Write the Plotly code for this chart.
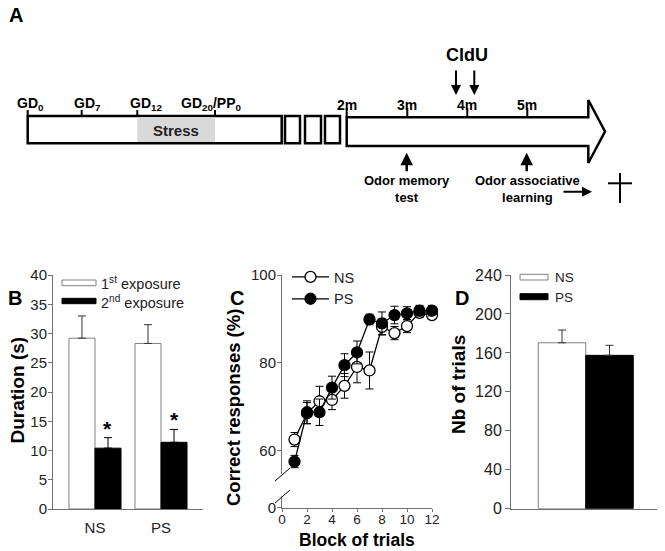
import plotly.graph_objects as go

# ---------------- data ----------------
# Panel B
groups_b = ["NS", "PS"]
first_exposure = [29.2, 28.3]
first_exposure_err = [3.8, 3.2]
second_exposure = [10.4, 11.4]
second_exposure_err = [1.8, 2.2]

# Panel C
blocks = [1, 2, 3, 4, 5, 6, 7, 8, 9, 10, 11, 12]
ns_correct = [62.6, 68.6, 71.3, 71.6, 74.8, 79.1, 78.3, 88.2, 86.8, 88.4, 91.4, 90.9]
ns_correct_err = [1.6, 2.4, 3.4, 2.2, 2.8, 3.6, 4.2, 1.8, 1.5, 1.5, 1.0, 1.0]
ps_correct = [57.6, 68.8, 68.8, 74.4, 79.5, 82.4, 89.9, 89.0, 90.9, 91.3, 91.9, 91.9]
ps_correct_err = [1.4, 2.6, 3.0, 2.6, 2.6, 2.6, 1.2, 2.6, 2.0, 1.5, 1.2, 1.2]

# Panel D
groups_d = ["NS", "PS"]
nb_trials = [170.4, 157.5]
nb_trials_err = [13.1, 10.3]

# Panel A texts
gd_labels = ["GD<sub>0</sub>", "GD<sub>7</sub>", "GD<sub>12</sub>", "GD<sub>20</sub>/PP<sub>0</sub>"]
month_labels = ["2m", "3m", "4m", "5m"]

# ---------------- helpers ----------------
OFF = 8                       # page body margin
W, H = 665 - OFF, 551 - OFF   # figure size
FONT = "Liberation Sans, Arial, sans-serif"
AX = "#707070"


def px(x):
    return (x - OFF) / W


def py(y):
    return 1 - (y - OFF) / H


def label(x, y, text, size, bold=False, color="black", xanchor="center", angle=0):
    f = dict(family=FONT, size=size, color=color)
    if bold:
        f["weight"] = "bold"
    return dict(x=px(x), y=py(y), xref="paper", yref="paper", text=text, showarrow=False,
                xanchor=xanchor, yanchor="middle", font=f, textangle=angle)


def arrow(x, y, ax, ay, width=2):
    return dict(x=px(x), y=py(y), xref="paper", yref="paper", text="", showarrow=True,
                ax=ax, ay=ay, arrowhead=2, arrowsize=1, arrowwidth=width, arrowcolor="black",
                standoff=0, xanchor="center", yanchor="middle")


fig = go.Figure()

# ---------------- Panel B ----------------
fig.add_trace(go.Bar(
    x=groups_b, y=first_exposure, name="1st exposure", xaxis="x", yaxis="y",
    marker=dict(color="white", line=dict(color="#808080", width=1)),
    error_y=dict(type="data", array=first_exposure_err, arrayminus=[0, 0],
                 color="#333333", thickness=1, width=4),
    showlegend=False, cliponaxis=False))
fig.add_trace(go.Bar(
    x=groups_b, y=second_exposure, name="2nd exposure", xaxis="x", yaxis="y",
    marker=dict(color="black", line=dict(color="black", width=1)),
    error_y=dict(type="data", array=second_exposure_err, arrayminus=[0, 0],
                 color="black", thickness=1, width=4),
    showlegend=False, cliponaxis=False))

# ---------------- Panel C ----------------
fig.add_trace(go.Scatter(x=[], y=[], xaxis="x2", yaxis="y3", showlegend=False, hoverinfo="skip"))
fig.add_trace(go.Scatter(
    x=blocks, y=ns_correct, name="NS", xaxis="x2", yaxis="y2",
    mode="lines+markers", line=dict(color="black", width=1.3),
    marker=dict(symbol="circle", size=11, color="white", line=dict(color="black", width=1.3)),
    error_y=dict(type="data", array=ns_correct_err, color="black", thickness=1, width=4),
    cliponaxis=False, legend="legend"))
fig.add_trace(go.Scatter(
    x=blocks, y=ps_correct, name="PS", xaxis="x2", yaxis="y2",
    mode="lines+markers", line=dict(color="black", width=1.3),
    marker=dict(symbol="circle", size=11, color="black", line=dict(color="black", width=1.3)),
    error_y=dict(type="data", array=ps_correct_err, color="black", thickness=1, width=4),
    cliponaxis=False, legend="legend"))

# ---------------- Panel D ----------------
fig.add_trace(go.Bar(
    x=[0, 1], y=nb_trials, xaxis="x3", yaxis="y4", width=[1, 1],
    marker=dict(color=["white", "black"], line=dict(color=["#808080", "black"], width=1)),
    error_y=dict(type="data", array=nb_trials_err, arrayminus=[0, 0],
                 color="#333333", thickness=1, width=4),
    showlegend=False, cliponaxis=False, hovertext=groups_d))

tickfont = dict(family=FONT, size=15, color="#222")

fig.update_layout(
    width=W, height=H, autosize=False,
    margin=dict(l=0, r=0, t=0, b=0),
    paper_bgcolor="white", plot_bgcolor="white",
    barmode="group", bargap=0.212, bargroupgap=0,
    font=dict(family=FONT, color="black"),
    # B
    xaxis=dict(domain=[px(53), px(203)], anchor="y", range=[-0.636, 1.636], automargin=False,
               showline=True, linecolor=AX, linewidth=1, ticks="", showgrid=False,
               tickfont=tickfont, ticklabelstandoff=5, zeroline=False),
    yaxis=dict(domain=[py(509), py(275)], anchor="x", range=[0, 40], dtick=5, automargin=False,
               showline=True, linecolor=AX, linewidth=1, ticks="outside", ticklen=4,
               tickcolor=AX, showgrid=False, zeroline=False, tickfont=tickfont,
               ticklabelstandoff=-2),
    # C
    xaxis2=dict(domain=[px(282), px(432)], anchor="y3", range=[0, 12], automargin=False,
                tickvals=[0, 2, 4, 6, 8, 10, 12], showline=True, linecolor=AX, linewidth=1,
                ticks="outside", ticklen=3, tickcolor=AX, showgrid=False, zeroline=False,
                tickfont=dict(family=FONT, size=13.5, color="#222"), ticklabelstandoff=-4),
    yaxis2=dict(domain=[py(474), py(275)], anchor="x2", range=[54.77, 100], automargin=False,
                tickvals=[60, 80, 100], showline=True, linecolor=AX, linewidth=1,
                ticks="outside", ticklen=4, tickcolor=AX, showgrid=False, zeroline=False,
                tickfont=tickfont, ticklabelstandoff=-2),
    yaxis3=dict(domain=[py(507.5), py(496)], anchor="x2", range=[0, 2.6], automargin=False,
                tickvals=[0], showline=True, linecolor=AX, linewidth=1,
                ticks="outside", ticklen=4, tickcolor=AX, showgrid=False, zeroline=False,
                tickfont=tickfont, ticklabelstandoff=-2),
    # D
    xaxis3=dict(domain=[px(511), px(660)], anchor="y4", range=[-1.074, 2.063], automargin=False,
                showline=True, linecolor=AX, linewidth=1, ticks="", showticklabels=False,
                showgrid=False, zeroline=False),
    yaxis4=dict(domain=[py(508.7), py(275)], anchor="x3", range=[0, 240], dtick=40, automargin=False,
                showline=True, linecolor=AX, linewidth=1, ticks="outside", ticklen=5,
                tickcolor=AX, showgrid=False, zeroline=False,
                tickfont=dict(family=FONT, size=16, color="#222")),
    legend=dict(x=px(287), y=py(261), xanchor="left", yanchor="top",
                bgcolor="rgba(0,0,0,0)", font=dict(family=FONT, size=14.5, color="#222"),
                tracegroupgap=0, itemwidth=37),
)

shapes = []
annotations = []

# Axis titles
annotations.append(label(16.5, 390, "Duration (s)", 19, bold=True, angle=-90))
annotations.append(label(233, 408, "Correct responses (%)", 18.5, bold=True, angle=-90))
annotations.append(label(357, 539.5, "Block of trials", 17.5, bold=True))
annotations.append(label(458, 385, "Nb of trials", 19, bold=True, angle=-90))

# Asterisks over second-exposure bars
for g, m, e in zip(groups_b, second_exposure, second_exposure_err):
    annotations.append(dict(x=g, y=m + e, xref="x", yref="y", text="*", showarrow=False,
                            xshift=13, yshift=-4, xanchor="center", yanchor="bottom",
                            font=dict(family=FONT, size=21, color="black", weight="bold")))

# Panel B legend
shapes.append(dict(type="rect", xref="paper", yref="paper", x0=px(62), x1=px(96), y0=py(285.7), y1=py(280),
                   line=dict(color="#808080", width=1), fillcolor="white"))
shapes.append(dict(type="rect", xref="paper", yref="paper", x0=px(62), x1=px(96), y0=py(303.7), y1=py(298.3),
                   line=dict(color="black", width=1), fillcolor="black"))
annotations.append(label(99, 283, "1<sup>st</sup> exposure", 14.5, color="#222", xanchor="left"))
annotations.append(label(99, 301.5, "2<sup>nd</sup> exposure", 14.5, color="#222", xanchor="left"))

# Panel D legend
shapes.append(dict(type="rect", xref="paper", yref="paper", x0=px(520), x1=px(548), y0=py(280), y1=py(274.3),
                   line=dict(color="#808080", width=1), fillcolor="white"))
shapes.append(dict(type="rect", xref="paper", yref="paper", x0=px(520), x1=px(548), y0=py(299.7), y1=py(293.7),
                   line=dict(color="black", width=1), fillcolor="black"))
for lab, yy in zip(groups_d, [277.5, 297]):
    annotations.append(label(553, yy, lab, 13.5, color="#222", xanchor="left"))

# Panel C axis break marks
for (x0, y0, x1, y1) in [(275, 481, 290, 468), (275, 503, 290, 490)]:
    shapes.append(dict(type="line", xref="paper", yref="paper", x0=px(x0), y0=py(y0), x1=px(x1), y1=py(y1),
                       line=dict(color="black", width=1)))

# Panel letters
for lab, x, y in [("A", 16, 15), ("B", 14.5, 298), ("C", 237, 298), ("D", 462, 298)]:
    annotations.append(label(x, y, lab, 20, bold=True))

# ---------------- Panel A timeline ----------------
LW = 2.5
shapes.append(dict(type="rect", xref="paper", yref="paper", x0=px(27.7), x1=px(281.7), y0=py(143.3), y1=py(116),
                   line=dict(color="black", width=LW), fillcolor="white"))
shapes.append(dict(type="rect", xref="paper", yref="paper", x0=px(137.3), x1=px(215), y0=py(142), y1=py(117.3),
                   line=dict(width=0), fillcolor="#d9d9d9"))
for x0, x1 in [(285, 300), (305, 321), (325, 340)]:
    shapes.append(dict(type="rect", xref="paper", yref="paper", x0=px(x0), x1=px(x1), y0=py(143.3), y1=py(116),
                       line=dict(color="black", width=LW), fillcolor="white"))
arrow_path = (f"M{px(346.7)},{py(117.3)} L{px(588.3)},{py(117.3)} L{px(588.3)},{py(100)} "
              f"L{px(605)},{py(131.5)} L{px(588.3)},{py(163)} L{px(588.3)},{py(146)} "
              f"L{px(346.7)},{py(146)} Z")
shapes.append(dict(type="path", xref="paper", yref="paper", path=arrow_path,
                   line=dict(color="black", width=LW), fillcolor="white"))

gd_tick_x = [27.7, 81.7, 137.3, 215]
gd_label_x = [30, 87, 146, 211]
for tx, lx, lab in zip(gd_tick_x, gd_label_x, gd_labels):
    shapes.append(dict(type="line", xref="paper", yref="paper", x0=px(tx), x1=px(tx), y0=py(110), y1=py(116),
                       line=dict(color="black", width=2)))
    annotations.append(label(lx, 104, lab, 14, bold=True))

month_x = [346.7, 407.3, 467.3, 527.3]
for mx, lab in zip(month_x, month_labels):
    shapes.append(dict(type="line", xref="paper", yref="paper", x0=px(mx), x1=px(mx), y0=py(108), y1=py(117.3),
                       line=dict(color="black", width=2)))
    annotations.append(label(mx, 104.5, lab, 14, bold=True))

annotations.append(label(176, 130.5, "Stress", 15, bold=True, color="#222"))
annotations.append(label(466.7, 55, "CldU", 18, bold=True))

# CldU down arrows
for ax_x in [456, 474.3]:
    annotations.append(arrow(ax_x, 95, 0, -26, width=2))
# Up arrows to tests
for ux in [406.7, 526.7]:
    annotations.append(arrow(ux, 152.7, 0, 20, width=2.5))
annotations.append(label(407, 189, "Odor memory<br>test", 13, bold=True))
annotations.append(label(527, 189, "Odor associative<br>learning", 13, bold=True))
annotations.append(arrow(592, 191.7, -30, 0, width=2))
# Cross
shapes.append(dict(type="line", xref="paper", yref="paper", x0=px(620), x1=px(620), y0=py(173), y1=py(203),
                   line=dict(color="black", width=2)))
shapes.append(dict(type="line", xref="paper", yref="paper", x0=px(608), x1=px(632), y0=py(183.3), y1=py(183.3),
                   line=dict(color="black", width=2)))

fig.update_layout(shapes=shapes, annotations=annotations)
fig.write_html("out.html")
